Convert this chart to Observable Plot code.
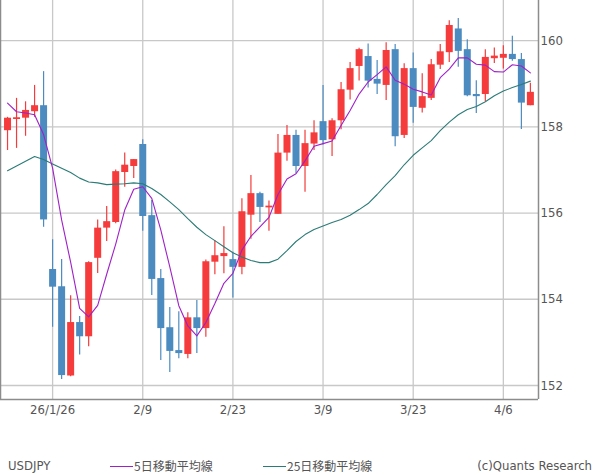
<!DOCTYPE html>
<html>
<head>
<meta charset="utf-8">
<script src="https://cdn.jsdelivr.net/npm/d3@7"></script>
<script src="https://cdn.jsdelivr.net/npm/@observablehq/plot@0.6"></script>
<style>
  html, body { margin: 0; padding: 0; background: #fff; }
  body { width: 600px; height: 475px; overflow: hidden; position: relative; }
  #chart svg { display: block; }
  #legend { position: absolute; left: 0; top: 457px; width: 600px; height: 18px;
            font-family: "Liberation Sans Narrow", "DejaVu Sans Condensed", "Noto Sans CJK JP", sans-serif;
            font-size: 13px; color: #555; }
  #legend span { position: absolute; top: 0; line-height: 18px; white-space: nowrap; }
  #legend .jp { font-family: "Noto Sans CJK JP", sans-serif; font-size: 12px; }
  #legend .sw { display: inline-block; width: 23px; height: 0; border-top: 1px solid; vertical-align: middle; margin-right: 1px; position: relative; top: -1px; }
</style>
</head>
<body>
<div id="chart"></div>
<div id="legend">
  <span style="left:8px">USDJPY</span>
  <span class="jp" style="left:110px"><i class="sw" style="border-color:#a020c8"></i>5日移動平均線</span>
  <span class="jp" style="left:263px"><i class="sw" style="border-color:#2b7b77"></i>25日移動平均線</span>
  <span style="right:8px">(c)Quants Research</span>
</div>
<script>
const dates = ["1/19","1/20","1/21","1/22","1/23","1/26","1/27","1/28","1/29","1/30",
  "2/2","2/3","2/4","2/5","2/6","2/9","2/10","2/11","2/12","2/13",
  "2/16","2/17","2/18","2/19","2/20","2/23","2/24","2/25","2/26","2/27",
  "3/2","3/3","3/4","3/5","3/6","3/9","3/10","3/11","3/12","3/13",
  "3/16","3/17","3/18","3/19","3/20","3/23","3/24","3/25","3/26","3/27",
  "3/30","3/31","4/1","4/2","4/3","4/6","4/7","4/8","4/9"];

const open = [157.91,158.17,158.20,158.35,158.49,154.69,154.29,152.22,153.46,153.13,
  154.95,155.65,155.78,156.94,157.08,157.59,155.94,154.48,153.34,152.81,
  152.72,153.57,153.32,154.86,154.99,154.92,154.74,155.95,156.45,156.12,
  155.97,157.39,157.80,157.08,157.60,158.12,157.70,158.14,158.85,159.40,
  159.63,159.10,158.96,159.79,157.80,159.35,158.43,158.66,159.43,159.72,
  160.27,159.79,158.75,158.75,159.58,159.59,159.68,159.56,158.49];
const high = [158.22,158.66,158.58,158.96,159.28,155.38,154.92,154.08,153.60,154.87,
  155.84,156.15,157.00,157.39,157.24,157.70,156.29,154.69,153.81,153.71,
  153.69,153.97,154.91,155.36,155.68,155.09,156.33,156.87,156.48,156.28,
  157.82,158.03,157.92,157.92,158.14,158.96,158.19,159.03,159.49,159.82,
  159.92,159.54,159.95,159.91,159.46,159.71,159.23,159.56,159.91,160.46,
  160.51,160.02,159.07,159.79,159.83,159.88,160.10,159.70,159.01];
const low = [157.45,157.50,157.78,158.22,155.67,153.35,152.14,152.20,152.71,152.90,
  154.60,155.34,155.75,156.60,156.80,155.58,154.09,152.58,152.30,152.62,
  152.62,152.74,153.12,154.57,154.59,154.03,154.57,155.39,155.78,155.58,
  155.97,157.20,156.91,156.48,157.45,157.58,157.31,157.93,158.62,159.06,
  158.90,158.75,158.61,157.54,157.73,158.08,158.32,158.61,159.33,159.49,
  159.38,158.70,158.31,158.59,159.47,159.34,159.52,157.94,158.49];
const close = [158.20,158.21,158.38,158.49,155.84,154.28,152.23,153.46,153.13,154.85,
  155.65,155.80,156.96,157.11,157.24,155.92,154.46,153.32,152.79,152.74,
  153.57,153.32,154.87,155.01,155.06,154.74,156.03,156.45,156.13,156.16,
  157.39,157.80,157.08,157.61,157.86,157.68,158.14,158.86,159.35,159.79,
  159.06,158.99,159.77,157.77,159.35,158.45,158.70,159.44,159.74,160.35,
  159.75,158.72,158.70,159.61,159.64,159.68,159.56,158.55,158.80];

const ma5 = [158.55,158.35,158.32,158.28,157.82,157.04,155.84,154.86,153.79,153.59,
  153.86,154.58,155.28,156.07,156.55,156.61,156.34,155.61,154.75,153.85,
  153.38,153.15,153.46,153.90,154.37,154.60,155.14,155.46,155.68,155.90,
  156.43,156.79,156.91,157.21,157.55,157.61,157.67,158.03,158.38,158.76,
  159.04,159.21,159.39,159.08,158.99,158.87,158.81,158.74,159.14,159.34,
  159.60,159.60,159.45,159.43,159.28,159.27,159.44,159.41,159.25];
const ma25 = [156.98,157.09,157.20,157.31,157.24,157.14,157.04,156.94,156.81,156.72,
  156.70,156.66,156.67,156.68,156.70,156.68,156.57,156.43,156.26,156.08,
  155.87,155.67,155.50,155.36,155.22,155.08,154.98,154.90,154.85,154.85,
  154.93,155.13,155.34,155.50,155.62,155.70,155.78,155.85,155.95,156.08,
  156.22,156.43,156.66,156.87,157.12,157.34,157.51,157.68,157.91,158.11,
  158.28,158.40,158.47,158.58,158.72,158.83,158.91,158.98,159.06];

const tickIdx = [5, 15, 25, 35, 45, 55];
const tickLabels = ["26/1/26", "2/9", "2/23", "3/9", "3/23", "4/6"];
const yTicks = [152, 154, 156, 158, 160];

const xDomain = [-0.78, 58.9];
const yDomain = [151.675, 160.93];

const UP = "#f53b3b", DOWN = "#4b8bc0", C5 = "#a020c8", C25 = "#2b7b77";
const GRID = "#c8c8c8", FRAME = "#8c8c8c";

const rows = dates.map((d, i) => ({
  i, d, o: open[i], h: high[i], l: low[i], c: close[i],
  m5: ma5[i], m25: ma25[i], up: close[i] >= open[i]
}));

const chart = Plot.plot({
  width: 600,
  height: 426,
  marginTop: 0,
  marginLeft: 0,
  marginRight: 62,
  marginBottom: 27,
  style: { fontFamily: '"Liberation Sans Narrow", "DejaVu Sans Condensed", sans-serif', fontSize: "13px", color: "#555", background: "#fff" },
  x: { type: "linear", domain: xDomain },
  y: { domain: yDomain },
  marks: [
    Plot.gridY(yTicks, { stroke: GRID, strokeOpacity: 1, strokeWidth: 1.3 }),
    Plot.gridX(tickIdx, { stroke: GRID, strokeOpacity: 1, strokeWidth: 1.3 }),
    Plot.ruleX(rows, { x: "i", y1: "l", y2: "h", stroke: d => d.up ? UP : DOWN, strokeWidth: 1.2 }),
    Plot.ruleX(rows, { x: "i", y1: "o", y2: "c", stroke: d => d.up ? UP : DOWN, strokeWidth: 7 }),
    Plot.line(rows, { x: "i", y: "m25", stroke: C25, strokeWidth: 1.1 }),
    Plot.line(rows, { x: "i", y: "m5", stroke: C5, strokeWidth: 1.1 }),
    Plot.ruleX([xDomain[0], xDomain[1]], { stroke: FRAME, strokeWidth: 1.5 }),
    Plot.ruleY([yDomain[0]], { stroke: FRAME, strokeWidth: 1.5 }),
    Plot.axisY(yTicks, { anchor: "right", tickSize: 0, tickPadding: 2, label: null, fill: "#555" }),
    Plot.axisX(tickIdx, { anchor: "bottom", tickSize: 0, tickPadding: 5, label: null, fill: "#555",
      tickFormat: v => tickLabels[tickIdx.indexOf(v)] })
  ]
});
document.getElementById("chart").appendChild(chart);
</script>
</body>
</html>
